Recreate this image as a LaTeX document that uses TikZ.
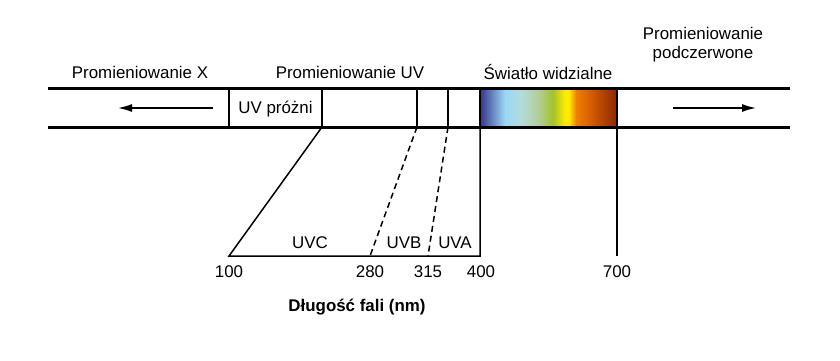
\documentclass[tikz,border=0pt]{standalone}
\usepackage{fontspec}
\setmainfont{Liberation Sans}
\usetikzlibrary{arrows.meta}
\definecolor{sp0}{HTML}{35358A}
\definecolor{sp1}{HTML}{9AD8F4}
\definecolor{sp2}{HTML}{B2DCDC}
\definecolor{sp3}{HTML}{B4CE98}
\definecolor{sp4}{HTML}{A4C22A}
\definecolor{sp5}{HTML}{FFEC00}
\definecolor{sp6}{HTML}{F08000}
\definecolor{sp7}{HTML}{E06400}
\definecolor{sp8}{HTML}{8A2800}
\begin{document}
\begin{tikzpicture}[x=1pt,y=-1pt,
  lbl/.style={font=\fontsize{16.9}{19}\selectfont, inner sep=0pt, anchor=base},
  bold lbl/.style={lbl, font=\fontsize{16.9}{19}\selectfont\bfseries},
  band/.style={line width=3pt},
  divider/.style={line width=2.6pt},
  thinline/.style={line width=1.5pt},
  dashline/.style={line width=1.5pt, dash pattern=on 6pt off 4pt},
  arr/.style={line width=1.6pt, -{Latex[length=14pt,width=8pt]}},
]
\useasboundingbox (0,0) rectangle (840,360);
\fill[white] (0,0) rectangle (840,360);

% spectrum
\shade[left color=sp0,right color=sp1] (480,89) rectangle (505,127);
\shade[left color=sp1,right color=sp2] (505,89) rectangle (521,127);
\shade[left color=sp2,right color=sp3] (521,89) rectangle (538,127);
\shade[left color=sp3,right color=sp4] (538,89) rectangle (553,127);
\shade[left color=sp4,right color=sp5] (553,89) rectangle (565,127);
\fill[sp5] (565,89) rectangle (569,127);
\shade[left color=sp5,right color=sp6] (569,89) rectangle (576,127);
\shade[left color=sp6,right color=sp7] (576,89) rectangle (587,127);
\shade[left color=sp7,right color=sp8] (587,89) rectangle (617,127);

% band coordinates
\coordinate (tl) at (48,88.5);
\coordinate (tr) at (790,88.5);
\coordinate (bl) at (48,127);
\coordinate (br) at (790,127);
\foreach \n/\x in {a/229,b/322,c/417,d/448,e/480,f/617}{
  \coordinate (\n t) at (\x,88.5);
  \coordinate (\n b) at (\x,127);
}
\draw[band] (tl) -- (tr);
\draw[band] (bl) -- (br);
\foreach \n in {a,b,c,d,e,f}{ \draw[divider] (\n t) -- (\n b); }

% lower scale
\coordinate (p100) at (229,256);
\coordinate (p280) at (370,256);
\coordinate (p315) at (428,256);
\coordinate (p400) at (480,256);
\coordinate (p700) at (617,256);
\draw[thinline] (bb) -- (p100) -- (p400) -- (eb);
\draw[dashline] (cb) -- (p280);
\draw[dashline] (db) -- (p315);
\draw[thinline] (fb) -- (p700);

% arrows
\coordinate (la1) at (213,108);
\coordinate (la2) at (118,108);
\coordinate (ra1) at (673,108);
\coordinate (ra2) at (756,108);
\draw[arr] (la1) -- (la2);
\draw[arr] (ra1) -- (ra2);

% labels
\node[lbl] (px) at (140,78) {Promieniowanie X};
\node[lbl] (puv) at (350,78) {Promieniowanie UV};
\node[lbl] (sw) at (548,79) {Światło widzialne};
\node[lbl, align=center] (pir) at (703,58) {Promieniowanie\\podczerwone};
\node[lbl] (uvp) at (275.5,113) {UV próżni};
\node[lbl] (uvc) at (310,248) {UVC};
\node[lbl] (uvb) at (404,248) {UVB};
\node[lbl] (uva) at (455,248) {UVA};
\node[lbl] (n100) at (229,277) {100};
\node[lbl] (n280) at (370,277) {280};
\node[lbl] (n315) at (428,277) {315};
\node[lbl] (n400) at (481,277) {400};
\node[lbl] (n700) at (617,277) {700};
\node[bold lbl] (dl) at (357,311) {Długość fali (nm)};
\end{tikzpicture}
\end{document}
